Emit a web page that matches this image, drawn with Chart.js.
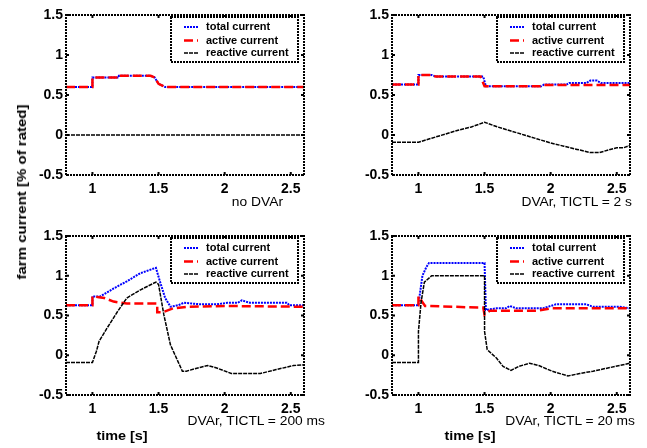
<!DOCTYPE html>
<html>
<head>
<meta charset="utf-8">
<script src="https://cdn.jsdelivr.net/npm/chart.js@4.4.1/dist/chart.umd.min.js"></script>
<style>
  html, body { margin: 0; padding: 0; background: #fff; }
  #wrap { position: relative; width: 647px; height: 448px; overflow: hidden; font-family: "Liberation Sans", Arial, sans-serif; }
  canvas { position: absolute; }
  .txt { position: absolute; white-space: nowrap; color: #000; line-height: 1; }
  .bold { font-weight: bold; font-size: 12px; }
  .sub { font-size: 12px; transform-origin: 100% 50%; transform: translate(-100%, -50%) scaleX(1.15); }
</style>
</head>
<body>
<div id="wrap">
  <canvas id="c1" width="323" height="224" style="left:0;top:0"></canvas>
  <canvas id="c2" width="324" height="224" style="left:323px;top:0"></canvas>
  <canvas id="c3" width="323" height="224" style="left:0;top:224px"></canvas>
  <canvas id="c4" width="324" height="224" style="left:323px;top:224px"></canvas>

  <div class="txt bold" style="left:22px;top:192px;transform:translate(-50%,-50%) rotate(-90deg) scaleX(1.25)">farm current [% of rated]</div>
  <div class="txt bold" style="left:122px;top:436px;transform:translate(-50%,-50%) scaleX(1.2)">time [s]</div>
  <div class="txt bold" style="left:470px;top:436px;transform:translate(-50%,-50%) scaleX(1.2)">time [s]</div>
  <div class="txt sub" id="s1" style="left:283px;top:202px"></div>
  <div class="txt sub" id="s2" style="left:632px;top:202px"></div>
  <div class="txt sub" id="s3" style="left:325px;top:421px"></div>
  <div class="txt sub" id="s4" style="left:635px;top:421px"></div>
</div>
<script>
// axis ticks
const X_TICKS = [1, 1.5, 2, 2.5];
const Y_TICKS = [-0.5, 0, 0.5, 1, 1.5];
const SERIES_NAMES = ['total current', 'active current', 'reactive current'];
const CASE_LABELS = ['no DVAr', 'DVAr, TICTL = 2 s', 'DVAr, TICTL = 200 ms', 'DVAr, TICTL = 20 ms'];

// case 1: no DVAr
const noDvarTime     = [0.8, 1.0, 1.0, 1.2, 1.2, 1.44, 1.47, 1.5, 1.55, 2.6];
const noDvarTotal    = [0.6, 0.6, 0.72, 0.72, 0.74, 0.74, 0.72, 0.64, 0.6, 0.6];
const noDvarActive   = [0.6, 0.6, 0.72, 0.72, 0.74, 0.74, 0.72, 0.64, 0.6, 0.6];
const noDvarReactive = [0, 0, 0, 0, 0, 0, 0, 0, 0, 0];

// case 2: TICTL = 2 s
const t2sTotalTime   = [0.8, 1.0, 1.0, 1.1, 1.13, 1.49, 1.51, 1.93, 1.95, 2.12, 2.14, 2.27, 2.3, 2.35, 2.38, 2.6];
const t2sTotal       = [0.63, 0.63, 0.75, 0.75, 0.73, 0.73, 0.61, 0.61, 0.63, 0.63, 0.65, 0.65, 0.68, 0.68, 0.65, 0.65];
const t2sActiveTime  = [0.8, 1.0, 1.0, 1.1, 1.13, 1.47, 1.5, 1.92, 1.95, 2.6];
const t2sActive      = [0.63, 0.63, 0.75, 0.75, 0.73, 0.73, 0.61, 0.61, 0.625, 0.625];
const t2sReactTime   = [0.8, 1.0, 1.1, 1.2, 1.3, 1.4, 1.5, 1.6, 1.7, 1.8, 1.9, 2.0, 2.1, 2.2, 2.3, 2.37, 2.45, 2.5, 2.55, 2.6];
const t2sReactive    = [-0.09, -0.09, -0.04, 0.01, 0.06, 0.1, 0.16, 0.1, 0.05, 0.0, -0.05, -0.1, -0.14, -0.18, -0.22, -0.22, -0.18, -0.16, -0.16, -0.13];

// case 3: TICTL = 200 ms
const t200TotalTime  = [0.8, 1.0, 1.0, 1.06, 1.16, 1.26, 1.36, 1.48, 1.51, 1.55, 1.59, 1.65, 1.69, 1.82, 1.94, 2.02, 2.1, 2.13, 2.19, 2.47, 2.49, 2.6];
const t200Total      = [0.63, 0.63, 0.74, 0.74, 0.84, 0.93, 1.03, 1.1, 0.93, 0.72, 0.61, 0.63, 0.66, 0.64, 0.64, 0.66, 0.66, 0.69, 0.66, 0.66, 0.63, 0.63];
const t200ActiveTime = [0.8, 1.0, 1.0, 1.05, 1.09, 1.16, 1.26, 1.49, 1.49, 1.53, 1.61, 1.72, 2.0, 2.6];
const t200Active     = [0.63, 0.63, 0.74, 0.73, 0.72, 0.675, 0.65, 0.65, 0.54, 0.54, 0.59, 0.61, 0.62, 0.61];
const t200ReactTime  = [0.8, 1.0, 1.03, 1.05, 1.11, 1.19, 1.26, 1.36, 1.48, 1.5, 1.54, 1.59, 1.68, 1.71, 1.82, 1.87, 1.94, 2.05, 2.27, 2.39, 2.52, 2.6];
const t200Reactive   = [-0.09, -0.09, 0.05, 0.175, 0.34, 0.55, 0.72, 0.82, 0.92, 0.89, 0.51, 0.13, -0.2, -0.2, -0.15, -0.13, -0.16, -0.23, -0.23, -0.18, -0.13, -0.12];

// case 4: TICTL = 20 ms
const t20TotalTime   = [0.8, 1.0, 1.01, 1.03, 1.06, 1.08, 1.5, 1.51, 1.59, 1.66, 1.69, 1.74, 1.94, 2.04, 2.27, 2.32, 2.52, 2.6];
const t20Total       = [0.63, 0.63, 0.76, 1.0, 1.11, 1.16, 1.16, 0.57, 0.59, 0.59, 0.62, 0.59, 0.59, 0.64, 0.64, 0.61, 0.61, 0.59];
const t20ActiveTime  = [0.8, 1.0, 1.0, 1.05, 1.26, 1.45, 1.49, 1.5, 1.54, 1.9, 2.0, 2.6];
const t20Active      = [0.63, 0.63, 0.74, 0.62, 0.61, 0.6, 0.6, 0.51, 0.56, 0.56, 0.59, 0.59];
const t20ReactTime   = [0.8, 1.0, 1.0, 1.02, 1.045, 1.1, 1.5, 1.5, 1.52, 1.59, 1.64, 1.7, 1.76, 1.84, 1.91, 2.01, 2.13, 2.22, 2.32, 2.49, 2.6];
const t20Reactive    = [-0.09, -0.09, 0.3, 0.67, 0.92, 1.0, 1.0, 0.3, 0.07, -0.035, -0.14, -0.19, -0.14, -0.1, -0.13, -0.2, -0.26, -0.23, -0.2, -0.14, -0.1];

const STYLES = [
    { color: '#0000ff', dash: [2, 1], width: 2, order: 2 },
    { color: '#ff0000', dash: [9, 4], width: 2.5, order: 1 },
    { color: '#000000', dash: [4, 1], width: 1.5, order: 0 }
];

const panels = [
    { id: 'c1', area: { l: 66, r: 304, t: 15, b: 175 },
      series: [[noDvarTime, noDvarTotal], [noDvarTime, noDvarActive], [noDvarTime, noDvarReactive]] },
    { id: 'c2', area: { l: 69, r: 307, t: 15, b: 175 },
      series: [[t2sTotalTime, t2sTotal], [t2sActiveTime, t2sActive], [t2sReactTime, t2sReactive]] },
    { id: 'c3', area: { l: 66, r: 304, t: 12, b: 171 },
      series: [[t200TotalTime, t200Total], [t200ActiveTime, t200Active], [t200ReactTime, t200Reactive]] },
    { id: 'c4', area: { l: 69, r: 307, t: 12, b: 171 },
      series: [[t20TotalTime, t20Total], [t20ActiveTime, t20Active], [t20ReactTime, t20Reactive]] }
];

CASE_LABELS.forEach((txt, i) => { document.getElementById('s' + (i + 1)).textContent = txt; });

// box around plot + inward ticks on all four sides
const framePlugin = {
    id: 'frame',
    afterDatasetsDraw(chart) {
        const { ctx, chartArea: a, scales } = chart;
        ctx.save();
        ctx.strokeStyle = '#000';
        ctx.lineWidth = 2;
        ctx.setLineDash([2, 1]);
        ctx.strokeRect(a.left, a.top, a.right - a.left, a.bottom - a.top);
        ctx.setLineDash([]);
        const len = 3;
        ctx.beginPath();
        X_TICKS.forEach(v => {
            const x = scales.x.getPixelForValue(v);
            ctx.moveTo(x, a.bottom); ctx.lineTo(x, a.bottom - len);
            ctx.moveTo(x, a.top); ctx.lineTo(x, a.top + len);
        });
        Y_TICKS.forEach(v => {
            const y = scales.y.getPixelForValue(v);
            ctx.moveTo(a.left, y); ctx.lineTo(a.left + len, y);
            ctx.moveTo(a.right, y); ctx.lineTo(a.right - len, y);
        });
        ctx.stroke();
        ctx.restore();
    }
};

// legend box in the upper right corner of the plot
const legendPlugin = {
    id: 'boxLegend',
    afterDraw(chart) {
        const { ctx, chartArea: a } = chart;
        const bw = 127, bh = 45;
        const bx = a.right - 6 - bw, by = a.top + 2;
        ctx.save();
        ctx.fillStyle = '#fff';
        ctx.fillRect(bx, by, bw, bh);
        ctx.strokeStyle = '#000';
        ctx.lineWidth = 2;
        ctx.setLineDash([2, 1]);
        ctx.strokeRect(bx, by, bw, bh);
        const rows = [10, 23.5, 36];
        chart.data.datasets.forEach((ds, i) => {
            const y = by + rows[i];
            ctx.strokeStyle = ds.borderColor;
            ctx.lineWidth = ds.borderWidth;
            ctx.setLineDash(ds.borderDash);
            ctx.beginPath();
            ctx.moveTo(bx + 13, y);
            ctx.lineTo(bx + 27, y);
            ctx.stroke();
            ctx.fillStyle = '#000';
            ctx.font = 'bold 11px "Liberation Sans", Arial, sans-serif';
            ctx.textBaseline = 'middle';
            ctx.fillText(ds.label, bx + 35, y);
        });
        ctx.restore();
    }
};

const tickFont = { family: '"Liberation Sans", Arial, sans-serif', size: 14, weight: 'bold' };

panels.forEach(p => {
    const canvas = document.getElementById(p.id);
    const W = canvas.width, H = canvas.height;
    new Chart(canvas.getContext('2d'), {
        type: 'line',
        data: {
            datasets: p.series.map((s, i) => ({
                label: SERIES_NAMES[i],
                data: s[0].map((t, k) => ({ x: t, y: s[1][k] })),
                borderColor: STYLES[i].color,
                borderDash: STYLES[i].dash,
                borderWidth: STYLES[i].width,
                order: STYLES[i].order,
                pointRadius: 0,
                tension: 0,
                fill: false
            }))
        },
        options: {
            responsive: false,
            animation: false,
            devicePixelRatio: 1,
            layout: { padding: { left: 0, top: p.area.t, right: W - p.area.r, bottom: 0 } },
            plugins: { legend: { display: false }, tooltip: { enabled: false } },
            scales: {
                x: {
                    type: 'linear', min: 0.8, max: 2.6,
                    afterBuildTicks: s => { s.ticks = X_TICKS.map(v => ({ value: v })); },
                    afterFit: s => { s.height = H - p.area.b; },
                    grid: { display: false, drawTicks: false },
                    border: { display: false },
                    ticks: { font: tickFont, color: '#000', padding: 6, maxRotation: 0, callback: v => String(v) }
                },
                y: {
                    type: 'linear', min: -0.5, max: 1.5,
                    afterBuildTicks: s => { s.ticks = Y_TICKS.map(v => ({ value: v })); },
                    afterFit: s => { s.width = p.area.l; },
                    grid: { display: false, drawTicks: false },
                    border: { display: false },
                    ticks: { font: tickFont, color: '#000', padding: 3, callback: v => String(v) }
                }
            }
        },
        plugins: [framePlugin, legendPlugin]
    });
});
</script>
</body>
</html>
